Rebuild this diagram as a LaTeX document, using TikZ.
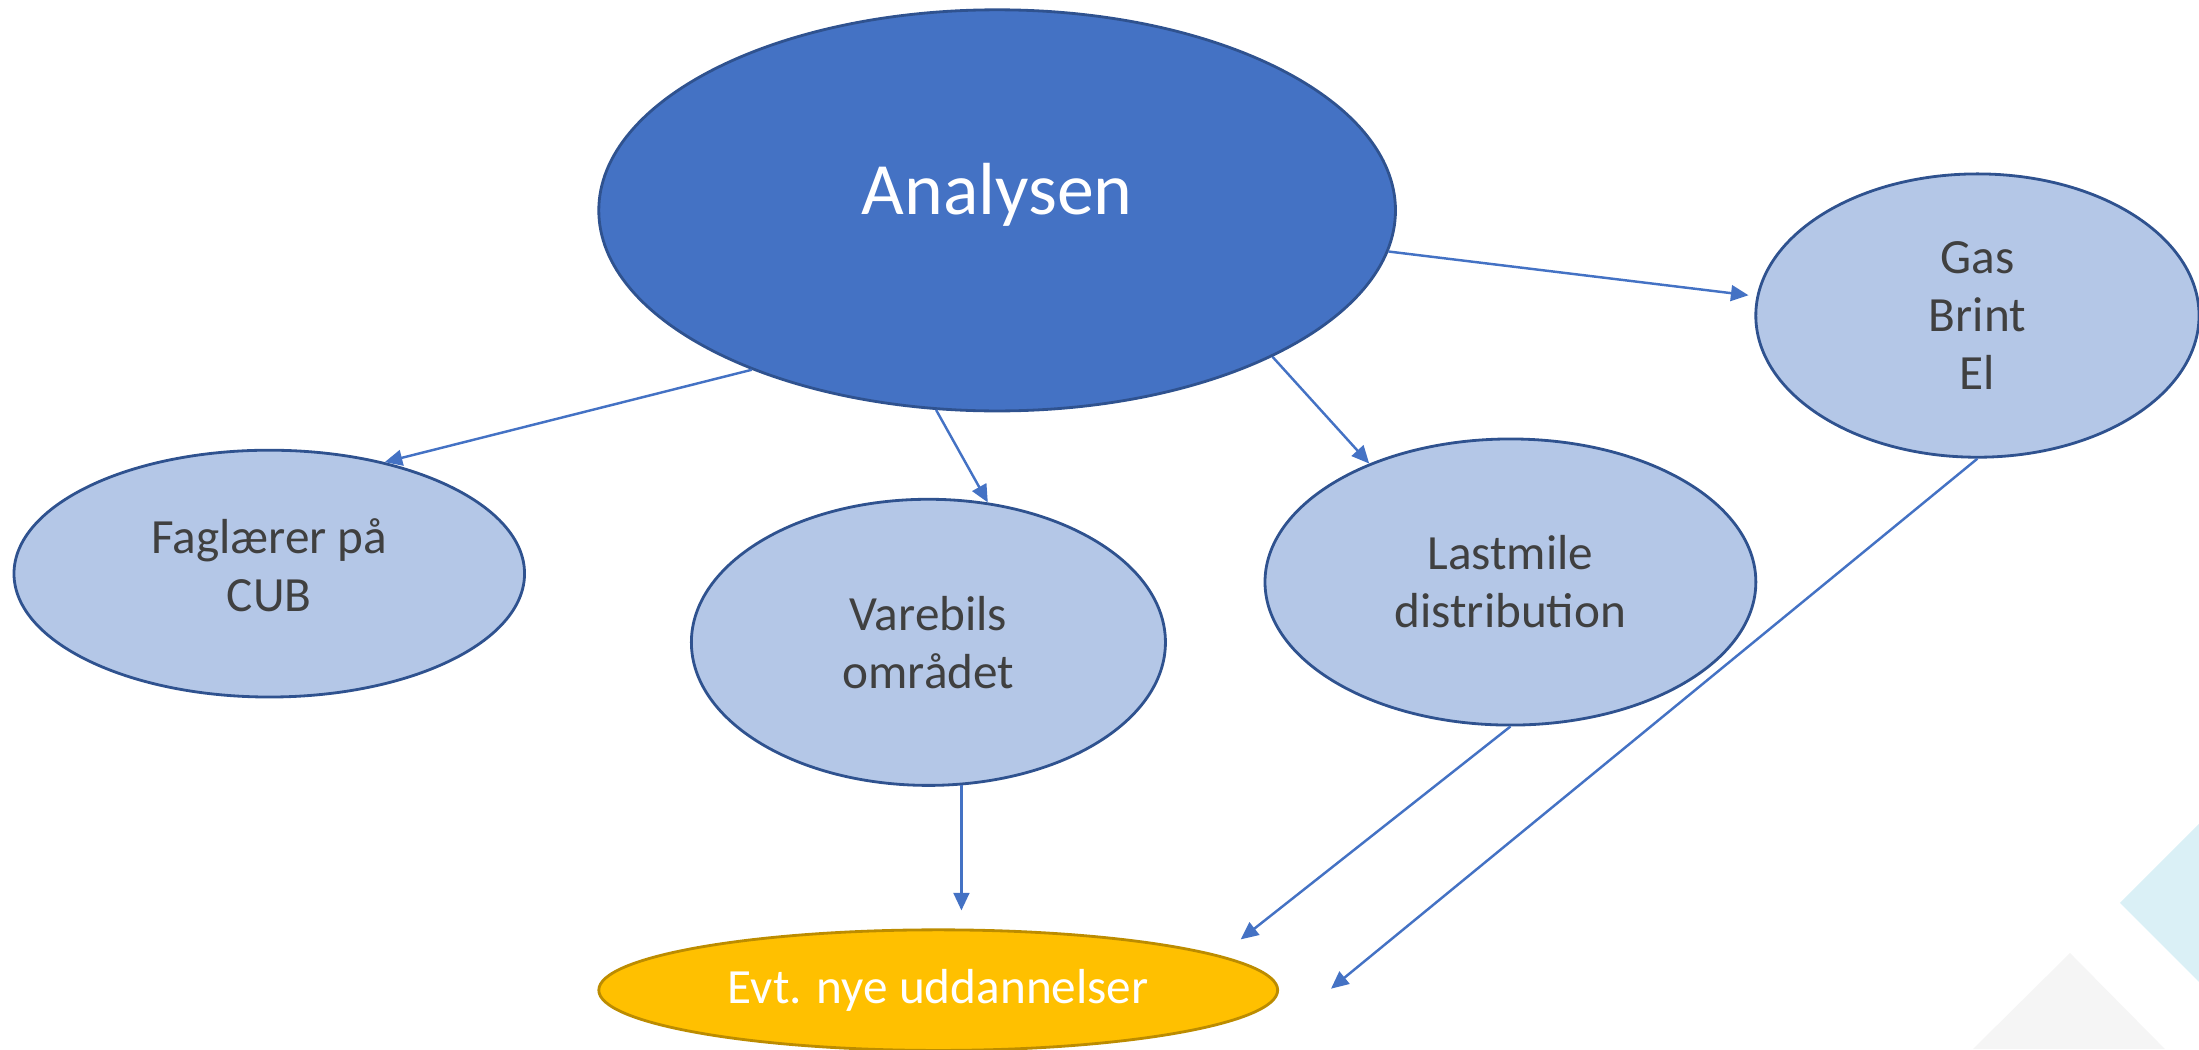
\documentclass[tikz,border=0pt]{standalone}
\usepackage{fontspec}
\setmainfont{Carlito}
\usetikzlibrary{shapes.geometric,arrows.meta}

\definecolor{accblue}{HTML}{4472C4}
\definecolor{edgeblue}{HTML}{2F528F}
\definecolor{paleblue}{HTML}{B4C7E7}
\definecolor{goldfill}{HTML}{FFC000}
\definecolor{goldedge}{HTML}{BC8C00}
\definecolor{txtgray}{HTML}{404040}
\definecolor{decocyan}{HTML}{DAF0F6}
\definecolor{decogray}{HTML}{F5F5F5}

\begin{document}
\begin{tikzpicture}[x=0.014024cm,y=-0.014024cm,
  oval/.style={ellipse,inner sep=0pt,line width=0.8pt,align=center},
  topic/.style={oval,fill=paleblue,draw=edgeblue,text=txtgray,font=\fontsize{14}{16.5}\selectfont},
  conn/.style={draw=accblue,line width=0.7pt,-{Triangle[length=5pt,width=4.5pt]}}]
\useasboundingbox (0,0) rectangle (1568,748);
\fill[decocyan] (1511.6,643.8) -- (1568,587.4) -- (1568,700.2) -- cycle;
\fill[decogray] (1476,679.5) -- (1543.7,748) -- (1406.8,748) -- cycle;
\node[oval,fill=accblue,draw=edgeblue,text=white,font=\fontsize{21}{25}\selectfont,
  minimum width=7.966cm,minimum height=4.011cm,text depth=0.43cm] (anal) at (711,150) {Analysen};
\node[topic,minimum width=4.432cm,minimum height=2.833cm] (gas) at (1410,225) {Gas\\Brint\\El};
\node[topic,minimum width=5.105cm,minimum height=2.468cm,text depth=0.17cm] (fag) at (192,409) {Faglærer på\\CUB};
\node[topic,minimum width=4.740cm,minimum height=2.861cm] (vare) at (662,458) {Varebils\\området};
\node[topic,minimum width=4.908cm,minimum height=2.861cm] (last) at (1077,415) {Lastmile\\distribution};
\node[oval,fill=goldfill,draw=goldedge,text=white,font=\fontsize{14}{16.5}\selectfont,
  minimum width=6.788cm,minimum height=1.206cm] (evt) at (669,706) {Evt. nye uddannelser};
\coordinate (gasend) at ([xshift=0.519cm,yshift=0.014cm]evt.east);
\draw[conn] (anal.213.9) -- (fag.44);
\draw[conn] (anal.253.9) -- (vare.67.1);
\draw[conn] (anal.332) -- (last.140.4);
\draw[conn,shorten >=0.08cm] (anal.354.75) -- (gas.175.8);
\draw[conn,shorten >=0.18cm] (vare.283.9) -- (vare.283.9 |- evt.north);
\draw[conn,shorten >=0.26cm] (last.south) -- (evt.7);
\draw[conn] (gas.south) -- (gasend);
\end{tikzpicture}
\end{document}
